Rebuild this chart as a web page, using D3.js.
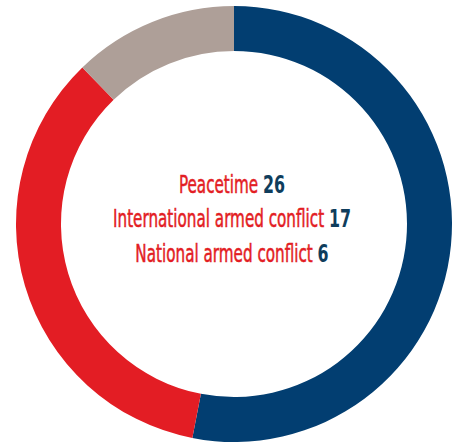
<!DOCTYPE html>
<html><head><meta charset="utf-8">
<script src="https://cdn.jsdelivr.net/npm/d3@7"></script>
<style>html,body{margin:0;padding:0;background:#fff;}svg{display:block;}</style>
</head><body>
<svg id="c" width="460" height="446"></svg>
<script>
const categories = ["Peacetime", "International armed conflict", "National armed conflict"];
const values = [26, 17, 6];
const colors = ["#023e71", "#e31d24", "#ae9f98"];

const svg = d3.select("#c");
const cx = 234, cy = 224, outerR = 218, innerR = 173;
const g = svg.append("g").attr("transform", `translate(${cx},${cy})`);
const pie = d3.pie().sort(null).value(d => d)(values);
const arc = d3.arc().innerRadius(innerR).outerRadius(outerR);
g.selectAll("path").data(pie).join("path")
  .attr("d", arc)
  .attr("fill", (d, i) => colors[i]);

const font = "'DejaVu Sans Condensed','DejaVu Sans',sans-serif";
const baselines = [193, 227, 262];
const texts = [];
categories.forEach((c, i) => {
  const t = svg.append("text")
    .attr("x", 0).attr("y", 0)
    .attr("text-anchor", "middle")
    .style("font-family", font)
    .style("font-stretch", "condensed")
    .style("font-size", "24px");
  t.append("tspan").attr("fill", "#e31d24").style("font-weight", "normal")
    .style("stroke", "#e31d24").style("stroke-width", "0.5px").text(c + " ");
  t.append("tspan").attr("fill", "#0f3d5c").style("font-weight", "bold")
    .style("font-size", "25px").text(values[i]);
  texts.push(t);
});
const w2 = texts[1].node().getComputedTextLength();
const sx = 238 / w2;
texts.forEach((t, i) => t.attr("transform", `translate(232,${baselines[i]}) scale(${sx},1)`));
</script>
</body></html>
